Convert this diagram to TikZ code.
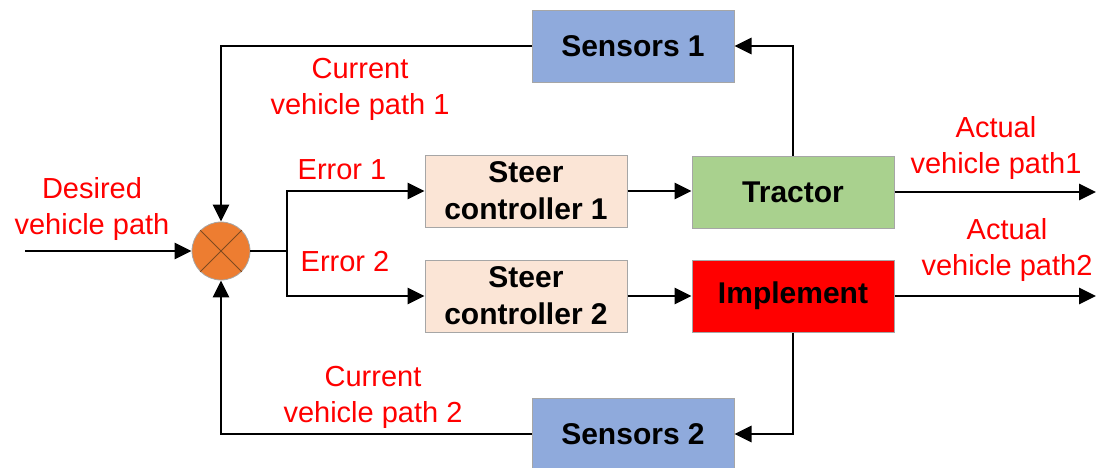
\documentclass[tikz,border=0pt]{standalone}
\usepackage{fontspec}
\setmainfont{Liberation Sans}
\usetikzlibrary{arrows.meta}
\definecolor{sensblue}{HTML}{8FAADC}
\definecolor{steerfill}{HTML}{FBE5D6}
\definecolor{tracgreen}{HTML}{A9D18E}
\definecolor{implred}{HTML}{FF0000}
\definecolor{sumorange}{HTML}{ED7D31}
\definecolor{labred}{HTML}{FF0000}
\definecolor{boxedge}{HTML}{A6A6A6}
\definecolor{crossline}{HTML}{7F4A20}
\begin{document}
\begin{tikzpicture}[x=1pt,y=-1pt,
  blk/.style={draw=boxedge, line width=1pt, minimum width=202pt, minimum height=72pt,
    inner sep=0pt, align=center, font=\fontsize{30}{37}\selectfont\bfseries},
  lab/.style={text=labred, align=center, inner sep=0pt, font=\fontsize{29}{36}\selectfont},
  conn/.style={line width=2.8pt, draw=black},
  arr/.style={conn, -{Triangle[length=17pt,width=16pt]}}]
\useasboundingbox (0,0) rectangle (1100,467);
% blocks
\node[blk, fill=sensblue] (s1) at (633,46) {Sensors 1};
\node[blk, fill=sensblue] (s2) at (633,434) {Sensors 2};
\node[blk, fill=steerfill] (c1) at (526,191) {Steer\\controller 1};
\node[blk, fill=steerfill] (c2) at (526,296) {Steer\\controller 2};
\node[blk, fill=tracgreen] (tr) at (793,192) {Tractor};
\node[blk, fill=implred] (im) at (793,296) {Implement};
% summing junction
\node[circle, draw=boxedge, line width=0.8pt, fill=sumorange, minimum size=58pt, inner sep=0pt] (sum) at (221,251) {};
\draw[line width=0.9pt, draw=crossline] (sum.north west) -- (sum.south east);
\draw[line width=0.9pt, draw=crossline] (sum.north east) -- (sum.south west);
% coordinates
\coordinate (in) at (25,251);
\coordinate (br) at (287,251);
\coordinate (o1) at (1096,192);
\coordinate (o2) at (1096,296);
% connectors
\draw[arr] (in) -- (sum.west);
\draw[conn] (sum.east) -- (br);
\draw[arr] (br) |- (c1.west);
\draw[arr] (br) |- (c2.west);
\draw[arr] (c1.east) -- (c1.east -| tr.west);
\draw[arr] (c2.east) -- (im.west);
\draw[arr] (tr.north) |- (s1.east);
\draw[arr] (im.south) |- (s2.east);
\draw[arr] (s1.west) -| (sum.north);
\draw[arr] (s2.west) -| (sum.south);
\draw[arr] (tr.east) -- (o1);
\draw[arr] (im.east) -- (o2);
% labels
\node[lab] (ldes) at (92,209) {Desired\\vehicle path};
\node[lab] (lcur1) at (360,89) {Current\\vehicle path 1};
\node[lab] (lcur2) at (373,397) {Current\\vehicle path 2};
\node[lab] (le1) at (342,170) {Error 1};
\node[lab] (le2) at (345,262) {Error 2};
\node[lab] (la1) at (996,148) {Actual\\vehicle path1};
\node[lab] (la2) at (1007,250) {Actual\\vehicle path2};
\end{tikzpicture}
\end{document}
